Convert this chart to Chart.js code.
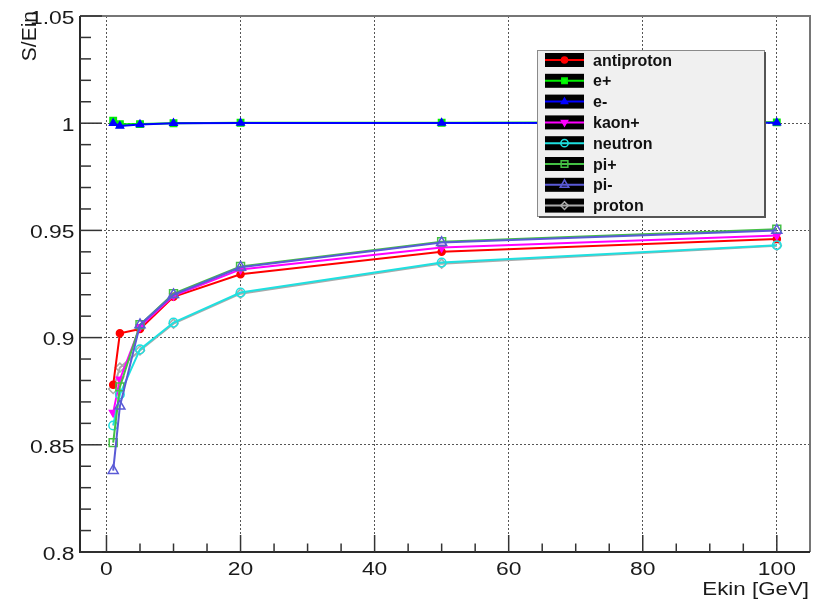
<!DOCTYPE html>
<html>
<head>
<meta charset="utf-8">
<script src="https://cdn.jsdelivr.net/npm/chart.js@4.4.1/dist/chart.umd.min.js"></script>
<style>
  html, body { margin: 0; padding: 0; background: #fff; }
  #wrap { width: 821px; height: 601px; }
</style>
</head>
<body>
<div id="wrap"><canvas id="c" width="821" height="601"></canvas></div>
<script>
// beam energies [GeV] and response S/Ein per particle type
const energies   = [1, 2, 5, 10, 20, 50, 100];
const antiproton = [0.878, 0.902, 0.904, 0.919, 0.9295, 0.940, 0.946];
const ePlus      = [1.0012, 0.9995, 0.9996, 1.0000, 1.0002, 1.0002, 1.0004];
const eMinus     = [1.0000, 0.9987, 0.9994, 1.0000, 1.0001, 1.0001, 1.0002];
const kaonPlus   = [0.865, 0.8805, 0.905, 0.9195, 0.9318, 0.942, 0.9476];
const neutron    = [0.859, 0.8735, 0.8945, 0.907, 0.921, 0.935, 0.9431];
const piPlus     = [0.851, 0.877, 0.906, 0.9205, 0.9332, 0.9447, 0.9505];
const piMinus    = [0.838, 0.868, 0.906, 0.920, 0.9328, 0.9443, 0.9500];
const proton     = [0.876, 0.886, 0.894, 0.9065, 0.9205, 0.9345, 0.9428];

const xTicks = [0, 20, 40, 60, 80, 100];
const yTicks = [0.8, 0.85, 0.9, 0.95, 1, 1.05];
const yTickLabels = ['0.8', '0.85', '0.9', '0.95', '1', '1.05'];

// z: lower is drawn on top
const series = [
  { label: 'antiproton', values: antiproton, color: '#ff0000', bg: '#ff0000', style: 'circle',   r: 3.5, z: 8 },
  { label: 'e+',         values: ePlus,      color: '#00ee00', bg: '#00ff00', style: 'rect',     r: 4.5, z: 7 },
  { label: 'e-',         values: eMinus,     color: '#0000ff', bg: '#0000ff', style: 'triangle', r: 4.2, z: 6 },
  { label: 'kaon+',      values: kaonPlus,   color: '#ff00ff', bg: '#ff00ff', style: 'triangle', r: 4.2, rot: 180, z: 5 },
  { label: 'neutron',    values: neutron,    color: '#1ee0e0', bg: 'rgba(0,0,0,0)', style: 'circle', r: 4.3, z: 4 },
  { label: 'pi+',        values: piPlus,     color: '#44c044', bg: 'rgba(0,0,0,0)', style: 'rect',   r: 5.6, z: 3 },
  { label: 'pi-',        values: piMinus,    color: '#5a5ad6', bg: 'rgba(0,0,0,0)', style: 'triangle', r: 5.8, z: 2 },
  { label: 'proton',     values: proton,     color: '#aaaaaa', bg: 'rgba(0,0,0,0)', style: 'rectRot', r: 4.5, z: 9 },
];

const AXIS_FONT = '18px "Liberation Sans", Arial, sans-serif';

function line(ctx, x1, y1, x2, y2) {
  ctx.beginPath(); ctx.moveTo(x1, y1); ctx.lineTo(x2, y2); ctx.stroke();
}

// text stretched horizontally like the ROOT canvas output
function wideText(ctx, text, x, y, align, sx) {
  ctx.save();
  ctx.translate(x, y);
  ctx.scale(sx, 1);
  ctx.textAlign = align;
  ctx.fillText(text, 0, 0);
  ctx.restore();
}

const rootFrame = {
  id: 'rootFrame',
  afterDatasetsDraw(chart) {
    const { ctx, chartArea: a, scales: { x, y } } = chart;
    ctx.save();

    // frame
    ctx.lineWidth = 2;
    ctx.strokeStyle = '#767676';
    ctx.beginPath(); ctx.moveTo(a.left, a.top); ctx.lineTo(a.right, a.top); ctx.lineTo(a.right, a.bottom); ctx.stroke();
    ctx.strokeStyle = '#2a2a2a';
    ctx.beginPath(); ctx.moveTo(a.left, a.top); ctx.lineTo(a.left, a.bottom); ctx.lineTo(a.right, a.bottom); ctx.stroke();

    // ticks pointing into the frame
    ctx.lineWidth = 1.5;
    ctx.strokeStyle = '#333';
    for (let k = 80; k <= 105; k++) {
      const py = y.getPixelForValue(k / 100);
      line(ctx, a.left, py, a.left + (k % 5 === 0 ? 22 : 11), py);
    }
    for (let v = 0; v <= 100; v += 5) {
      const px = x.getPixelForValue(v);
      line(ctx, px, a.bottom, px, a.bottom - (v % 20 === 0 ? 17 : 8.5));
    }

    // tick labels
    ctx.fillStyle = '#1a1a1a';
    ctx.font = AXIS_FONT;
    ctx.textBaseline = 'alphabetic';
    yTicks.forEach((v, i) => wideText(ctx, yTickLabels[i], a.left - 5.5, y.getPixelForValue(v) + 7.8, 'right', 1.27));
    xTicks.forEach(v => wideText(ctx, String(v), x.getPixelForValue(v), 575, 'center', 1.27));

    // axis titles
    wideText(ctx, 'Ekin [GeV]', a.right - 1, 595, 'right', 1.24);
    ctx.save();
    ctx.font = '21px "Liberation Sans", Arial, sans-serif';
    ctx.translate(36, 11);
    ctx.rotate(-Math.PI / 2);
    ctx.textAlign = 'right';
    ctx.fillText('S/Ein', 0, 0);
    ctx.restore();

    // legend box
    const L = 537, T = 50, W = 228, H = 167;
    ctx.fillStyle = '#f0f0f0';
    ctx.fillRect(L, T, W, H);
    ctx.lineWidth = 1;
    ctx.strokeStyle = '#8a8a8a';
    ctx.strokeRect(L + 0.5, T + 0.5, W - 1, H - 1);
    ctx.lineWidth = 2;
    ctx.strokeStyle = '#555';
    ctx.beginPath(); ctx.moveTo(L + 2, T + H); ctx.lineTo(L + W, T + H); ctx.lineTo(L + W, T + 2); ctx.stroke();

    chart.data.datasets.forEach((ds, i) => {
      const cy = 60 + i * 20.8;
      ctx.fillStyle = '#000';
      ctx.fillRect(545, cy - 7, 39, 14);
      ctx.lineWidth = 2;
      ctx.strokeStyle = ds.borderColor;
      line(ctx, 545, cy, 584, cy);
      ctx.fillStyle = ds.pointBackgroundColor;
      ctx.strokeStyle = ds.pointBorderColor;
      ctx.lineWidth = ds.pointBorderWidth;
      Chart.helpers.drawPoint(ctx, {
        pointStyle: ds.pointStyle, rotation: ds.pointRotation,
        radius: ds.pointRadius * 0.85, borderWidth: ds.pointBorderWidth
      }, 564.5, cy);
      ctx.fillStyle = '#111';
      ctx.font = 'bold 16px "Liberation Sans", Arial, sans-serif';
      ctx.textAlign = 'left';
      ctx.fillText(ds.label, 593, cy + 5.5);
    });

    ctx.restore();
  }
};

const datasets = series.map(s => ({
  label: s.label,
  data: energies.map((e, j) => ({ x: e, y: s.values[j] })),
  borderColor: s.color,
  borderWidth: 2,
  tension: 0,
  fill: false,
  pointStyle: s.style,
  pointRotation: s.rot || 0,
  pointRadius: s.r,
  pointBackgroundColor: s.bg,
  pointBorderColor: s.color,
  pointBorderWidth: 1.5,
  order: s.z,
}));

new Chart(document.getElementById('c'), {
  type: 'line',
  data: { datasets },
  options: {
    responsive: false,
    animation: false,
    layout: { padding: { left: 0, top: 16, right: 11, bottom: 0 } },
    plugins: { legend: { display: false }, tooltip: { enabled: false } },
    scales: {
      x: {
        type: 'linear', min: -3.95, max: 104.95,
        afterBuildTicks: s => { s.ticks = xTicks.map(v => ({ value: v })); },
        afterFit: s => { s.height = 49; },
        ticks: { display: false },
        grid: { color: '#555', lineWidth: 1, drawTicks: false },
        border: { display: false, dash: [2, 2] },
      },
      y: {
        type: 'linear', min: 0.8, max: 1.05,
        afterBuildTicks: s => { s.ticks = yTicks.map(v => ({ value: v })); },
        afterFit: s => { s.width = 80; },
        ticks: { display: false },
        grid: { color: '#555', lineWidth: 1, drawTicks: false },
        border: { display: false, dash: [2, 2] },
      },
    },
  },
  plugins: [rootFrame],
});
</script>
</body>
</html>
